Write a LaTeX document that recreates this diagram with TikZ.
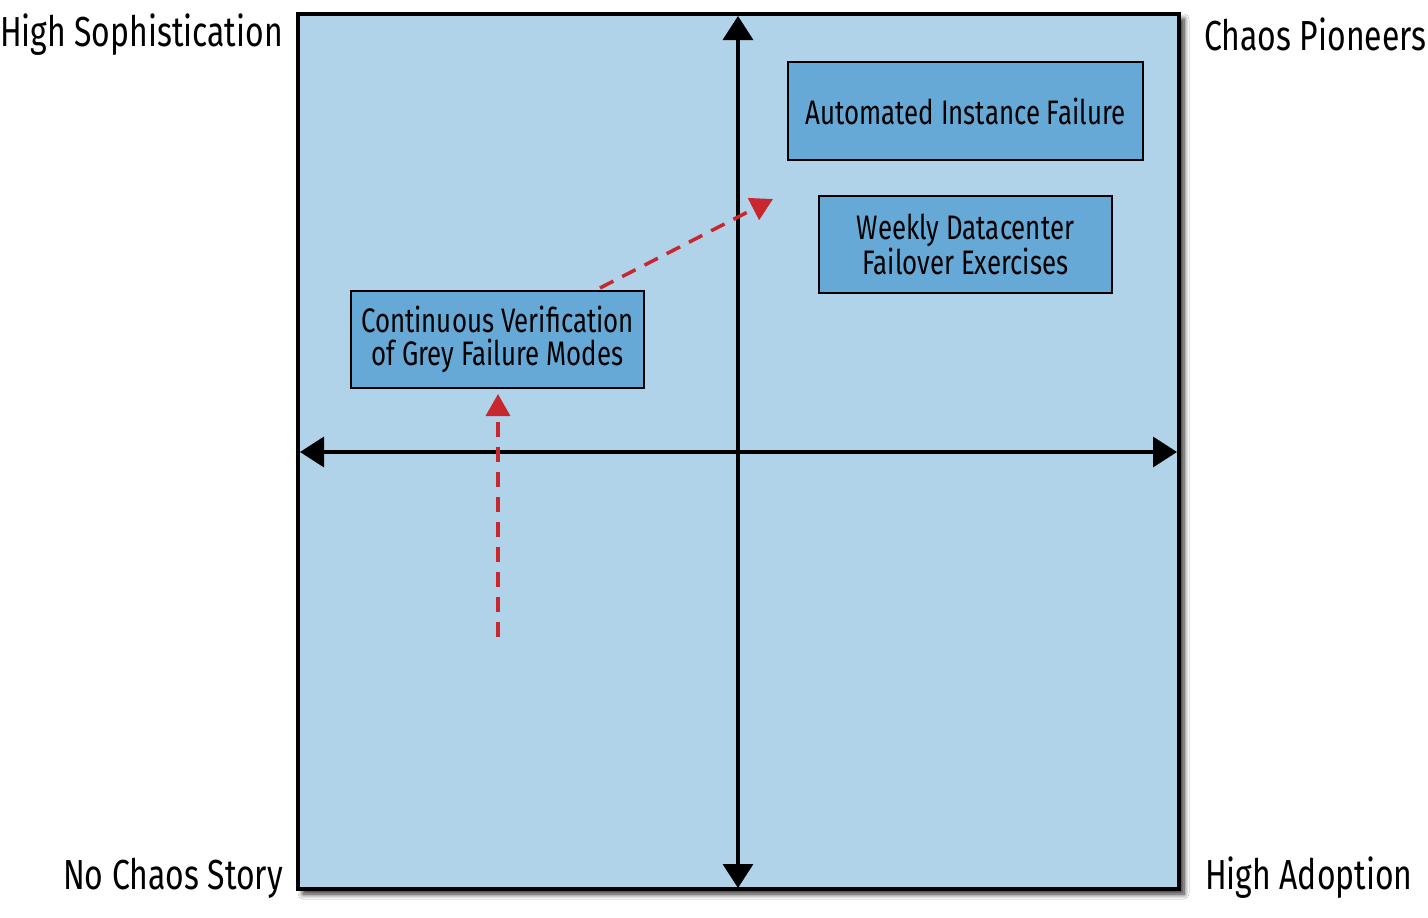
\documentclass[tikz,border=0pt]{standalone}
\usepackage{fontspec}
\setmainfont{Fira Sans}[FakeStretch=0.76]
\usetikzlibrary{arrows.meta,shadows.blur}
\definecolor{bgblue}{HTML}{B1D3E9}
\definecolor{boxblue}{HTML}{66A9D6}
\definecolor{dashred}{HTML}{C8272E}
\begin{document}
\begin{tikzpicture}[x=1pt,y=-1pt,
  corner/.style={font=\fontsize{42}{44}\selectfont, inner sep=0pt},
  itembox/.style={draw=black, line width=1.5pt, fill=boxblue, align=center,
     font=\fontsize{34}{33}\selectfont, inner sep=0pt},
  axis/.style={line width=3.5pt, {Triangle[length=24pt,width=30pt]}-{Triangle[length=24pt,width=30pt]}},
  redarrow/.style={dashred, line width=3.5pt, dash pattern=on 15pt off 10pt, -{Triangle[length=22pt,width=24pt]}}
]
\useasboundingbox (0,0) rectangle (1428,918);
\fill[white] (0,0) rectangle (1428,918);
% frame
\node[draw=black, line width=4pt, fill=bgblue, minimum width=881pt, minimum height=875pt, inner sep=0pt,
  blur shadow={shadow xshift=5pt, shadow yshift=-5pt, shadow blur steps=8, shadow blur radius=5pt, shadow opacity=85}]
  (frame) at (738.5,451.5) {};
% axes
\coordinate (vtop) at (738,16);
\coordinate (vbot) at (738,888);
\coordinate (hleft) at (300,452);
\coordinate (hright) at (1177,452);
\draw[axis] (vbot) -- (vtop);
\draw[axis] (hleft) -- (hright);
% boxes
\node[itembox, minimum width=355pt, minimum height=98pt] (auto) at (965.5,111) {Automated Instance Failure};
\node[itembox, minimum width=293pt, minimum height=97pt] (weekly) at (965.5,244.5) {Weekly Datacenter\\Failover Exercises};
\node[itembox, minimum width=293pt, minimum height=97pt] (cont) at (497.5,339.5) {Continuous Verification\\of Grey Failure Modes};
% red dashed arrows
\coordinate (rstart) at (498,637);
\coordinate (rtip) at (498,394);
\coordinate (dstart) at (600,288);
\coordinate (dtip) at (773,199);
\draw[redarrow] (rstart) -- (rtip);
\draw[redarrow] (dstart) -- (dtip);
% corner labels
\node[corner, anchor=east] (hs) at (283,35) {High Sophistication};
\node[corner, anchor=west] (cp) at (1204,34) {Chaos Pioneers};
\node[corner, anchor=east] (nc) at (283,878) {No Chaos Story};
\node[corner, anchor=west] (ha) at (1205,878) {High Adoption};
\end{tikzpicture}
\end{document}
